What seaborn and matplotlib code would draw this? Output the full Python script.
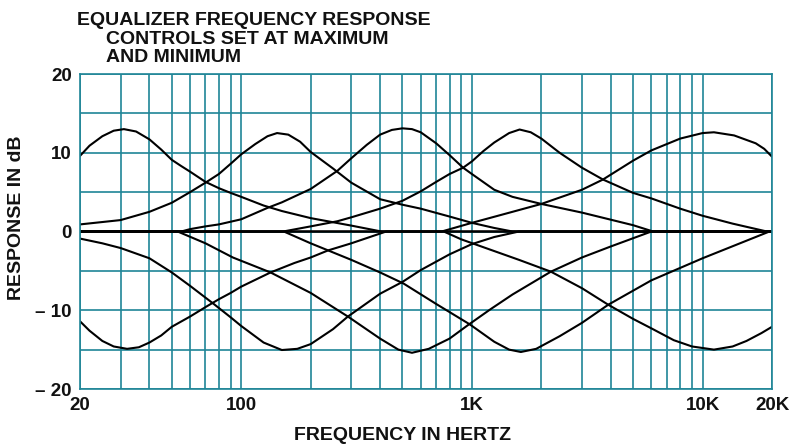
import matplotlib
matplotlib.use('Agg')
import pandas as pd
import matplotlib.pyplot as plt
from matplotlib.ticker import NullLocator
import seaborn as sns

# Boost curves (controls at maximum): frequency in Hz, response in dB
b1_freq = [20, 22, 25, 28, 31, 35, 40, 45, 50, 55, 60, 70, 80, 90, 100, 125, 150, 200, 300, 405, 20000]
b1_db = [9.6, 10.9, 12.1, 12.8, 13.0, 12.7, 11.7, 10.4, 9.1, 8.3, 7.6, 6.3, 5.5, 4.9, 4.4, 3.3, 2.6, 1.7, 0.75, 0, 0]

b2_freq = [20, 30, 40, 50, 60, 70, 80, 90, 100, 115, 130, 143, 160, 180, 200, 250, 300, 400, 500, 600,
           800, 1000, 1250, 1500, 20000]
b2_db = [0.9, 1.45, 2.5, 3.65, 5.0, 6.2, 7.3, 8.6, 9.8, 11.1, 12.1, 12.5, 12.3, 11.4, 10.1, 8.0, 6.2, 4.1, 3.4, 2.9,
         1.9, 1.1, 0.45, 0, 0]

b3_freq = [20, 55, 60, 70, 80, 100, 130, 150, 200, 261, 300, 350, 400, 450, 500, 550, 600, 700, 800, 916,
           1000, 1250, 1500, 2000, 3000, 4000, 5000, 6100, 20000]
b3_db = [0, 0, 0.3, 0.65, 0.9, 1.55, 3.0, 3.7, 5.4, 7.7, 9.3, 11.0, 12.3, 12.9, 13.1, 13.0, 12.6, 11.2, 9.7, 8.1,
         7.3, 5.3, 4.4, 3.5, 2.4, 1.5, 0.8, 0, 0]

b4_freq = [20, 152, 200, 261, 300, 400, 500, 600, 700, 800, 916, 1000, 1120, 1250, 1450, 1610, 1800, 2000, 2400,
           3000, 3700, 5000, 6000, 8000, 10000, 13500, 19000, 20000]
b4_db = [0, 0, 0.65, 1.3, 1.8, 2.9, 3.9, 5.1, 6.3, 7.3, 8.1, 8.9, 10.2, 11.3, 12.5, 12.95, 12.6, 11.8, 10.0,
         8.1, 6.6, 4.9, 4.2, 2.9, 2.0, 1.0, 0, 0]

b5_freq = [20, 740, 1000, 1500, 2000, 3000, 3700, 5000, 6000, 8000, 10000, 11200, 13700, 17000, 18500, 20000]
b5_db = [0, 0, 1.1, 2.5, 3.5, 5.3, 6.6, 9.0, 10.3, 11.8, 12.5, 12.6, 12.2, 11.2, 10.5, 9.5]

# Cut curves (controls at minimum)
c1_freq = [20, 22, 25, 28, 32, 36, 40, 45, 50, 60, 70, 80, 90, 100, 134, 170, 200, 238, 300, 425, 20000]
c1_db = [-11.4, -12.6, -13.9, -14.6, -14.9, -14.7, -14.1, -13.2, -12.1, -10.8, -9.6, -8.6, -7.8, -7.0, -5.2,
         -4.0, -3.3, -2.4, -1.5, 0, 0]

c2_freq = [20, 25, 30, 40, 50, 60, 76, 90, 100, 125, 150, 175, 200, 250, 290, 400, 500, 600, 800, 1000,
           1250, 1600, 20000]
c2_db = [-0.9, -1.5, -2.1, -3.4, -5.2, -6.9, -9.2, -10.9, -12.0, -14.1, -15.05, -14.9, -14.3, -12.4, -10.8,
         -7.9, -6.4, -4.9, -2.9, -1.6, -0.7, 0, 0]

c3_freq = [20, 53, 70, 92, 134, 200, 290, 400, 480, 550, 650, 800, 960, 1200, 1500, 2200, 3000, 4000, 6000, 20000]
c3_db = [0, 0, -1.5, -3.3, -5.2, -7.8, -10.8, -13.6, -15.0, -15.4, -14.9, -13.6, -11.9, -9.9, -8.0, -5.1,
         -3.3, -1.9, 0, 0]

c4_freq = [20, 153, 200, 238, 300, 400, 505, 700, 980, 1250, 1450, 1630, 1900, 2400, 3000, 3900, 6000,
           10000, 19500, 20000]
c4_db = [0, 0, -1.5, -2.4, -3.6, -5.2, -6.6, -9.2, -11.8, -14.0, -15.0, -15.3, -14.9, -13.3, -11.6, -9.3,
         -6.2, -3.4, 0, 0]

c5_freq = [20, 755, 900, 1200, 1600, 2200, 3000, 3900, 5000, 6000, 7500, 9000, 11200, 13500, 15500, 18000, 20000]
c5_db = [0, 0, -1.0, -2.3, -3.6, -5.1, -7.2, -9.3, -11.1, -12.3, -13.8, -14.6, -15.0, -14.6, -13.9, -12.9, -12.1]

# Axis ticks and labels
grid_freqs = [20, 30, 40, 50, 60, 70, 80, 90, 100, 200, 300, 400, 500, 600, 700, 800, 900,
              1000, 2000, 3000, 4000, 5000, 6000, 7000, 8000, 9000, 10000, 20000]
freq_labels = {20: '20', 100: '100', 1000: '1K', 10000: '10K', 20000: '20K'}
db_ticks = [-20, -15, -10, -5, 0, 5, 10, 15, 20]
db_labels = ['\u2013 20', '', '\u2013 10', '', '0', '', '10', '', '20']

teal = '#1f8597'
ink = '#111111'

sns.set_theme(style='white')
plt.rcParams['font.family'] = ['Liberation Sans', 'DejaVu Sans']
plt.rcParams['font.weight'] = 'bold'

# one long table, one row per point
curves = [('b1', b1_freq, b1_db), ('b2', b2_freq, b2_db), ('b3', b3_freq, b3_db),
          ('b4', b4_freq, b4_db), ('b5', b5_freq, b5_db),
          ('c1', c1_freq, c1_db), ('c2', c2_freq, c2_db), ('c3', c3_freq, c3_db),
          ('c4', c4_freq, c4_db), ('c5', c5_freq, c5_db)]
df = pd.concat([pd.DataFrame({'freq': f, 'db': d, 'curve': name}) for name, f, d in curves],
               ignore_index=True)

fig = plt.figure(figsize=(8.02, 4.44), dpi=100)
fig.patch.set_facecolor('white')
ax = fig.add_axes([80 / 802, 1 - 389 / 444, 692 / 802, 315 / 444])

sns.lineplot(data=df, x='freq', y='db', units='curve', estimator=None, sort=False,
             color='black', linewidth=1.5, ax=ax)

ax.set_xscale('log')
ax.set_xlim(20, 20000)
ax.set_ylim(-20, 20)

ax.set_xticks(grid_freqs)
ax.set_xticklabels([freq_labels.get(f, '') for f in grid_freqs])
ax.xaxis.set_minor_locator(NullLocator())
ax.set_yticks(db_ticks)
ax.set_yticklabels(db_labels)
ax.tick_params(length=0, labelsize=13.5, colors=ink)
ax.tick_params(axis='x', pad=6)
ax.tick_params(axis='y', pad=6)
for lab in ax.get_xticklabels() + ax.get_yticklabels():
    lab.set_fontweight('bold')

ax.set_axisbelow(True)
ax.grid(True, color=teal, linewidth=1.2)
for sp in ax.spines.values():
    sp.set_color(teal)
    sp.set_linewidth(1.2)

ax.set_xlabel('')
ax.set_ylabel('')

# titles and axis labels
fig.text(77 / 802, 1 - 25 / 444, 'EQUALIZER FREQUENCY RESPONSE', fontsize=14, fontweight='bold',
         color=ink, ha='left', va='baseline')
fig.text(106 / 802, 1 - 44 / 444, 'CONTROLS SET AT MAXIMUM', fontsize=14, fontweight='bold',
         color=ink, ha='left', va='baseline')
fig.text(106 / 802, 1 - 62 / 444, 'AND MINIMUM', fontsize=14, fontweight='bold',
         color=ink, ha='left', va='baseline')
fig.text(403 / 802, 1 - 440 / 444, 'FREQUENCY IN HERTZ', fontsize=14, fontweight='bold',
         color=ink, ha='center', va='baseline')
fig.text(17 / 802, 1 - 218 / 444, 'RESPONSE IN dB', fontsize=14, fontweight='bold',
         color=ink, ha='center', va='center', rotation=90)

fig.savefig('out.png', dpi=100, facecolor='white')
